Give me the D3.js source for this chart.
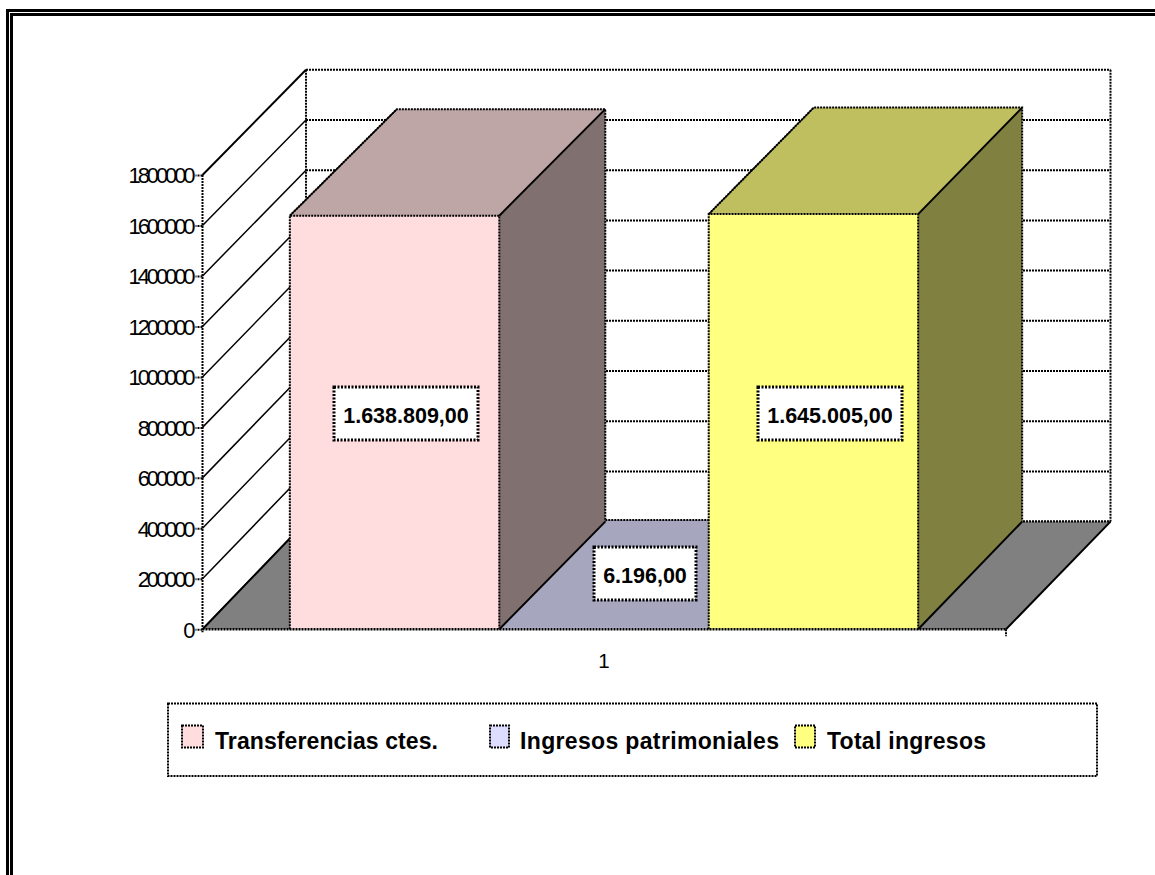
<!DOCTYPE html>
<html><head><meta charset="utf-8">
<script src="https://cdnjs.cloudflare.com/ajax/libs/d3/7.8.5/d3.min.js"></script>
<style>
html,body{margin:0;padding:0;background:#fff;overflow:hidden}
text{font-family:"Liberation Sans",Arial,sans-serif;fill:#000}
</style></head><body>
<svg id="c" width="1155" height="875"></svg>
<script>
const categories = ["1"];
const seriesNames = ["Transferencias ctes.", "Ingresos patrimoniales", "Total ingresos"];
const seriesValues = [1638809, 6196, 1645005];
const valueLabels = ["1.638.809,00", "6.196,00", "1.645.005,00"];
const yTicks = [0,200000,400000,600000,800000,1000000,1200000,1400000,1600000,1800000];
const frontColors = ["#FFDDDF","#DDDDFF","#FFFF80"];
const sideColors = ["#80706F","#6F6F80","#808040"];
const topColors = ["#BFA6A6","#A6A6BF","#BFBF60"];

const svg = d3.select("#c");
const DASH = "2 1";
const W = 1155, H = 875;

// frame (open to right and bottom of the canvas)
[7.5,11.5].forEach((o,i)=>{
  const t = i===0 ? 10.5 : 14.5;
  svg.append("path").attr("d",d3.line()([[o,H],[o,t],[W,t]]))
    .attr("fill","none").attr("stroke","#000").attr("stroke-width",3);
});

// scales
const yFront = d3.scaleLinear().domain([0,1800000]).range([629.3,175]);
const yBack  = d3.scaleLinear().domain([0,1800000]).range([521.6,69.8]);
const yBarBack = d3.scaleLinear().domain([0,1800000]).range([521.6,68.6]);
const xFrontRange = [202.5,1006], xBackRange = [306,1110.5];
const x0 = d3.scaleBand().domain(categories).range([202.5,1005.5]).paddingOuter(0.139);
const x1 = d3.scaleBand().domain(seriesNames).range([x0(categories[0]),x0(categories[0])+x0.bandwidth()]);
const xBarBack = d3.scaleLinear().domain([290,918]).range([397,1022]);

const line = d3.line();
const dashed = (sel,w=2)=>sel.attr("stroke","#000").attr("stroke-width",w).attr("stroke-dasharray",DASH).attr("fill","none");

// back wall
svg.append("g").selectAll("path").data(yTicks).join("path")
  .attr("d",t=>line([[xBackRange[0],yBack(t)],[xBackRange[1],yBack(t)]])).call(dashed);
svg.append("path").attr("d",line([[xBackRange[0],yBack(1800000)],[xBackRange[0],yBack(0)]])).call(dashed);
svg.append("path").attr("d",line([[xBackRange[1],yBack(1800000)],[xBackRange[1],yBack(0)]])).call(dashed);

// left wall diagonals
svg.append("g").selectAll("path").data(yTicks).join("path")
  .attr("d",t=>line([[xFrontRange[0],yFront(t)],[xBackRange[0],yBack(t)]]))
  .attr("stroke","#000").attr("stroke-width",t=>t===1800000?2:1.5).attr("fill","none");

// floor
svg.append("path").attr("d",line([[xFrontRange[0],yFront(0)],[xBackRange[0],yBack(0)],[xBackRange[1],yBack(0)],[xFrontRange[1],yFront(0)]])+"Z")
  .attr("fill","#808080").attr("stroke","none");
svg.append("path").attr("d",line([[xFrontRange[0],yFront(0)],[xBackRange[0],yBack(0)]])).attr("stroke","#000").attr("stroke-width",2);
svg.append("path").attr("d",line([[xFrontRange[1],yFront(0)],[xBackRange[1],yBack(0)]])).attr("stroke","#000").attr("stroke-width",2);
svg.append("path").attr("d",line([[xBackRange[0],yBack(0)],[xBackRange[1],yBack(0)]])).call(dashed);

// bars
const bars = svg.append("g").selectAll("g").data(seriesNames.map((n,i)=>({n,i,v:seriesValues[i]}))).join("g");
// middle first so neighbours overlap it correctly
bars.sort((a,b)=>(a.i===1?-1:0)-(b.i===1?-1:0));
bars.each(function(d){
  const g = d3.select(this);
  const xl = x1(d.n), xr = xl + x1.bandwidth();
  const yb = yFront(0), yt = yFront(d.v);
  const by = yBack(0), byt = yBarBack(d.v);
  const bl = xBarBack(xl), br = xBarBack(xr);
  g.append("path").attr("d",line([[xl,yt],[bl,byt],[br,byt],[xr,yt]])+"Z").attr("fill",topColors[d.i]);
  g.append("path").attr("d",line([[xr,yt],[br,byt],[br,by],[xr,yb]])+"Z").attr("fill",sideColors[d.i]);
  g.append("rect").attr("x",xl).attr("y",yt).attr("width",xr-xl).attr("height",Math.max(0,yb-yt)).attr("fill",frontColors[d.i]);
  if(d.i!==1){
    g.append("path").attr("d",line([[xl,yb],[xl,yt],[xr,yt],[xr,yb]])).call(dashed);
    g.append("path").attr("d",line([[xl,yt],[bl,byt],[br,byt],[br,by]])).call(dashed);
    g.append("path").attr("d",line([[xr,yt],[br,byt]])).attr("stroke","#000").attr("stroke-width",2);
    g.append("path").attr("d",line([[xr,yb],[br,by]])).attr("stroke","#000").attr("stroke-width",2);
    g.append("path").attr("d",line([[xl,yt],[bl,byt]])).attr("stroke","#000").attr("stroke-width",1.3);
  } else {
    g.append("path").attr("d",line([[bl,byt],[br,byt]])).call(dashed);
  }
});

// baseline and left axis
svg.append("path").attr("d",line([[xFrontRange[0],yFront(0)],[xFrontRange[1],yFront(0)]])).call(dashed,2.6);
const yAxis = d3.axisLeft(yFront).tickValues(yTicks).tickFormat(d3.format("d")).tickSize(7).tickPadding(2);
const ax = svg.append("g").attr("transform",`translate(${xFrontRange[0]},0)`).call(yAxis);
ax.select(".domain").call(dashed).attr("d",line([[0,yFront(1800000)],[0,yFront(0)+3]]));
ax.selectAll(".tick line").call(dashed);
ax.selectAll(".tick text").attr("font-family",'"Liberation Sans",Arial,sans-serif')
  .style("font-size","22px").attr("letter-spacing","-3.1px").attr("dy","0.36em").attr("dx","-1").attr("fill","#000");

// x axis
svg.append("path").attr("d",line([[xFrontRange[1],yFront(0)],[xFrontRange[1],yFront(0)+7]])).call(dashed);
svg.append("g").selectAll("text").data(categories).join("text")
  .attr("x",c=>x0(c)+x0.bandwidth()/2).attr("y",668).attr("text-anchor","middle").style("font-size","20.5px").text(c=>c);

// data labels
const labelBoxes = [[334,387,144,53],[594,547,102,53],[758,387,144,53]];
const lab = svg.append("g").selectAll("g").data(valueLabels).join("g");
lab.append("rect").attr("x",(d,i)=>labelBoxes[i][0]).attr("y",(d,i)=>labelBoxes[i][1])
  .attr("width",(d,i)=>labelBoxes[i][2]).attr("height",(d,i)=>labelBoxes[i][3])
  .attr("fill","#fff").attr("stroke","#000").attr("stroke-width",3).attr("stroke-dasharray","2 1.5");
lab.append("text").attr("x",(d,i)=>labelBoxes[i][0]+labelBoxes[i][2]/2).attr("y",(d,i)=>labelBoxes[i][1]+36)
  .attr("text-anchor","middle").attr("font-weight","700").style("font-size","21.5px").text(d=>d);

// legend
svg.append("rect").attr("x",168).attr("y",703.5).attr("width",929).attr("height",72.5).call(dashed).attr("fill","#fff");
const legendSwatchX = [182,490,795];
const legendSwatchW = [21,19,20];
const legendTextX = [215,520,827];
const legendTextW = [223,259,159];
const lg = svg.append("g").selectAll("g").data(seriesNames).join("g");
lg.append("rect").attr("x",(d,i)=>legendSwatchX[i]).attr("y",725.5).attr("width",(d,i)=>legendSwatchW[i]).attr("height",22)
  .call(dashed).attr("fill",(d,i)=>frontColors[i]);
lg.append("text").attr("x",(d,i)=>legendTextX[i]).attr("y",749).attr("font-weight","700").style("font-size","23px")
  .attr("textLength",(d,i)=>legendTextW[i]).attr("lengthAdjust","spacing").text(d=>d);
</script>
</body></html>
